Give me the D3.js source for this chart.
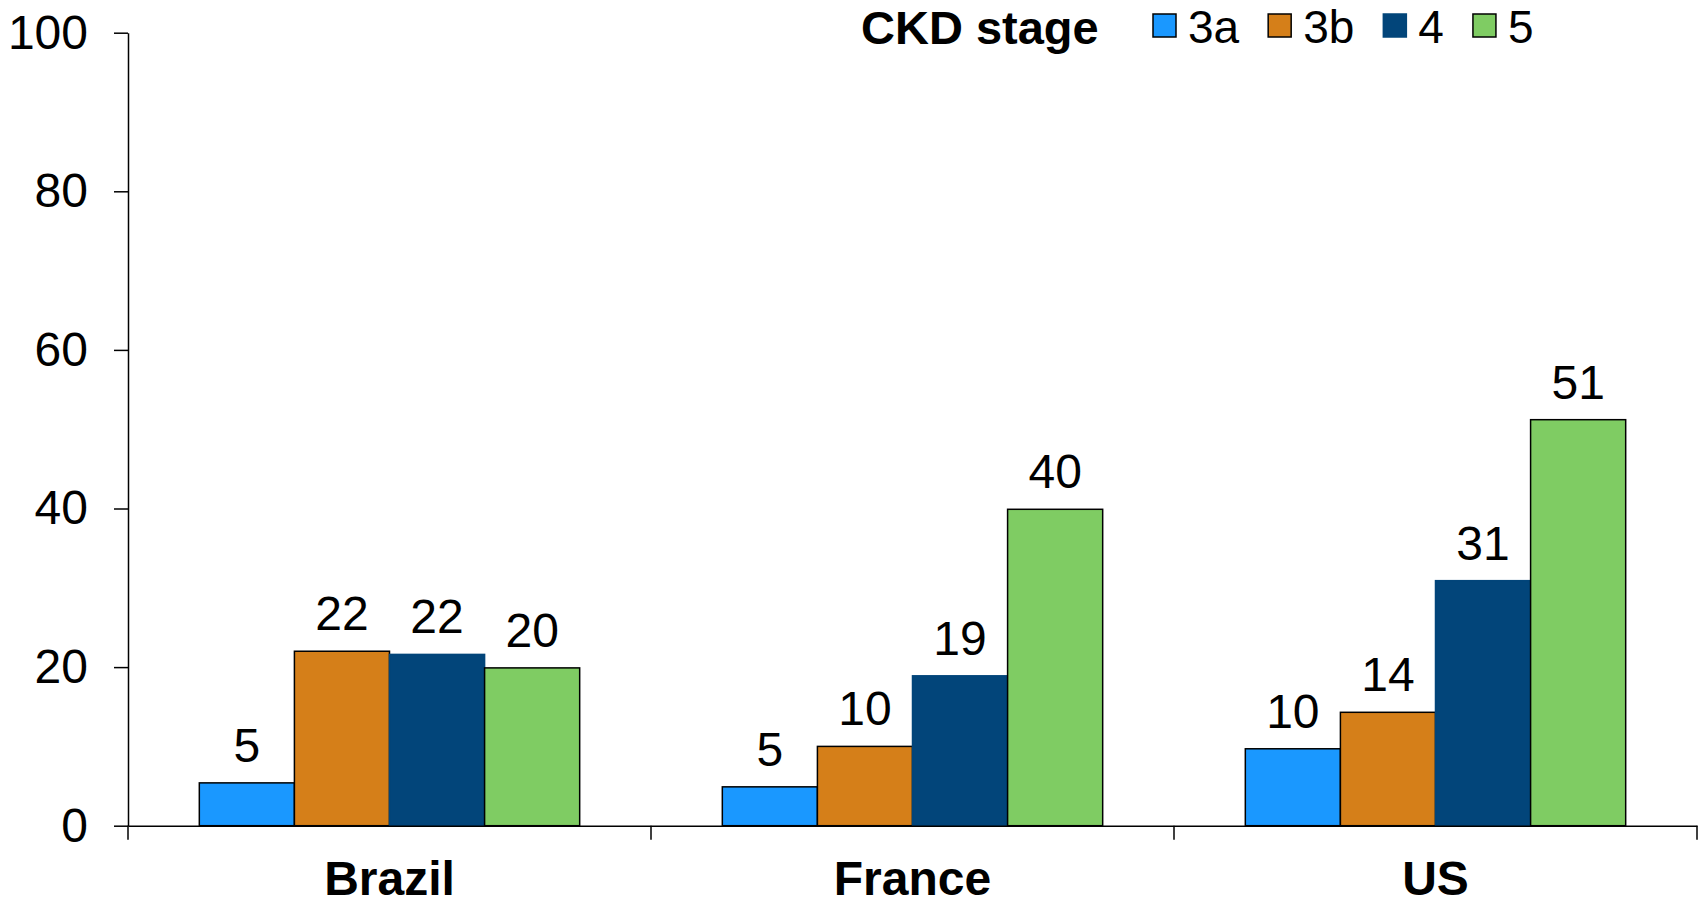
<!DOCTYPE html>
<html>
<head>
<meta charset="utf-8">
<script src="https://cdn.jsdelivr.net/npm/d3@7"></script>
<style>
  html, body { margin: 0; padding: 0; background: #fff; }
  svg { display: block; font-family: "Liberation Sans", Arial, sans-serif; }
</style>
</head>
<body>
<svg id="chart" width="1700" height="907"></svg>
<script>
// Countries on the x axis
const countries = ["Brazil", "France", "US"];
// CKD stages (one bar per stage in each country)
const stages = ["3a", "3b", "4", "5"];
// Percentage for each stage, per country (same order as stages)
const brazilValues = [5.4, 22.0, 21.6, 19.9];
const franceValues = [4.9, 10.0, 18.9, 39.9];
const usValues = [9.7, 14.3, 30.9, 51.2];
// Y axis ticks
const yTicks = [0, 20, 40, 60, 80, 100];
// Stage colours
const stageColors = ["#1a98ff", "#d57f19", "#02457a", "#7fcc63"];
const legendTitle = "CKD stage";

(function draw() {
  const valuesByCountry = [brazilValues, franceValues, usValues];
  const rows = countries.map((c, i) => ({
    country: c,
    bars: stages.map((s, j) => ({ stage: s, value: valuesByCountry[i][j] }))
  }));

  const svg = d3.select("#chart");
  const plotLeft = 128, plotRight = 1697, plotTop = 32.7, plotBottom = 825.7;

  const x = d3.scaleBand().domain(countries).range([plotLeft, plotRight]).padding(0);
  // Four bars per group with a 150% gap width around them
  const barW = x.bandwidth() / (stages.length + 1.5);
  const xInner = d3.scaleBand().domain(stages)
    .range([barW * 0.75, barW * 0.75 + barW * stages.length]).padding(0);
  const y = d3.scaleLinear().domain([0, 100]).range([plotBottom, plotTop]);
  const color = d3.scaleOrdinal().domain(stages).range(stageColors);

  // Y axis
  const yAxis = svg.append("g")
    .attr("transform", `translate(${plotLeft},0)`)
    .call(d3.axisLeft(y).tickValues(yTicks).tickSize(14).tickSizeOuter(0).tickPadding(26));
  yAxis.select(".domain").attr("stroke", "#000").attr("stroke-width", 1.5);
  yAxis.selectAll(".tick line").attr("stroke", "#000").attr("stroke-width", 1.5);
  yAxis.selectAll(".tick text")
    .attr("font-size", 48).attr("fill", "#000")
    .attr("font-family", "'Liberation Sans', Arial, sans-serif");

  // Bars
  const groups = svg.append("g").selectAll("g")
    .data(rows).join("g")
    .attr("transform", d => `translate(${x(d.country)},0)`);

  groups.selectAll("rect")
    .data(d => d.bars).join("rect")
    .attr("x", d => xInner(d.stage))
    .attr("y", d => y(d.value))
    .attr("width", xInner.bandwidth())
    .attr("height", d => y(0) - y(d.value))
    .attr("fill", d => color(d.stage))
    .attr("stroke", d => d.stage === "4" ? color(d.stage) : "#000")
    .attr("stroke-width", 1.5);

  // Value labels
  const fmt = d3.format(".0f");
  groups.selectAll("text.val")
    .data(d => d.bars).join("text")
    .attr("class", "val")
    .attr("x", d => xInner(d.stage) + xInner.bandwidth() / 2)
    .attr("y", d => y(d.value) - 21)
    .attr("text-anchor", "middle")
    .attr("font-size", 48)
    .attr("fill", "#000")
    .text(d => fmt(d.value));

  // X axis: baseline, category labels, and boundary ticks between categories
  const xAxis = svg.append("g")
    .attr("transform", `translate(0,${plotBottom})`)
    .call(d3.axisBottom(x).tickSize(0).tickSizeOuter(0).tickPadding(35));
  xAxis.select(".domain").attr("stroke", "#000").attr("stroke-width", 1.5);
  xAxis.selectAll(".tick text")
    .attr("font-size", 48).attr("font-weight", "bold").attr("fill", "#000")
    .attr("font-family", "'Liberation Sans', Arial, sans-serif");

  const bounds = countries.map(c => x(c)).concat([x.range()[1]]);
  xAxis.selectAll("line.bound")
    .data(bounds).join("line")
    .attr("class", "bound")
    .attr("x1", d => d).attr("x2", d => d)
    .attr("y1", 0).attr("y2", 14)
    .attr("stroke", "#000").attr("stroke-width", 1.5);

  // Legend
  const legend = svg.append("g");
  legend.append("text")
    .attr("x", 861).attr("y", 44)
    .attr("font-size", 47).attr("font-weight", "bold").attr("fill", "#000")
    .text(legendTitle);

  let cursor = 1153;
  stages.forEach(s => {
    legend.append("rect")
      .attr("x", cursor).attr("y", 14)
      .attr("width", 23).attr("height", 23)
      .attr("fill", color(s))
      .attr("stroke", s === "4" ? color(s) : "#000")
      .attr("stroke-width", 1.5);
    const t = legend.append("text")
      .attr("x", cursor + 35).attr("y", 42.5)
      .attr("font-size", 46).attr("fill", "#000")
      .text(s);
    cursor += 35 + t.node().getComputedTextLength() + 29;
  });
})();
</script>
</body>
</html>
